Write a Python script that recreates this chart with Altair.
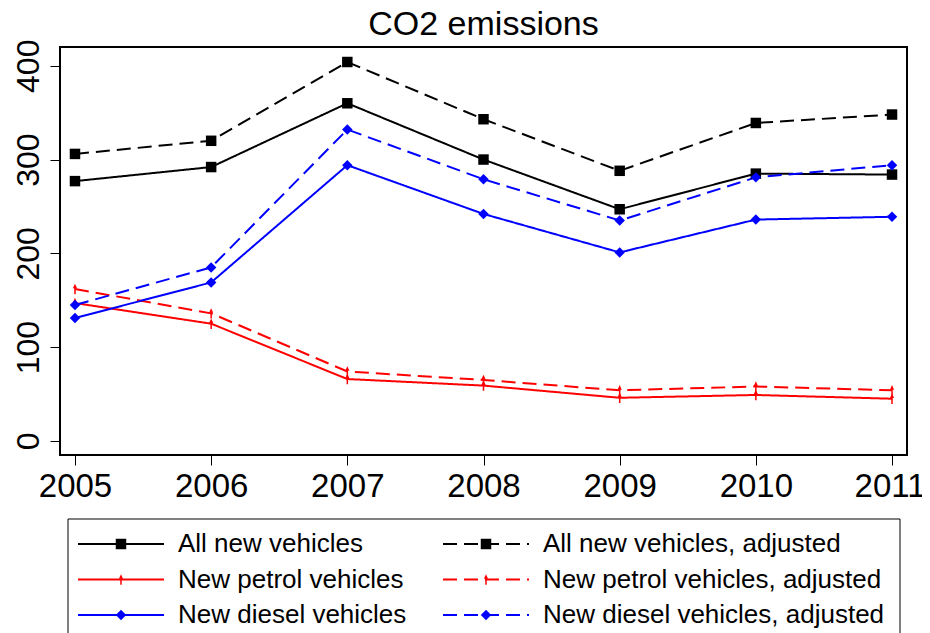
import altair as alt
import pandas as pd

years = [2005, 2006, 2007, 2008, 2009, 2010, 2011]
all_new = [277, 292, 360, 300, 247, 285, 284]
all_new_adj = [306, 320, 404, 343, 288, 339, 348]
petrol = [147, 125, 66, 59, 46, 49, 45]
petrol_adj = [162, 136, 74, 65, 54, 58, 54]
diesel = [131, 169, 294, 242, 201, 236, 239]
diesel_adj = [145, 185, 332, 279, 235, 281, 294]

series_names = [
    "All new vehicles",
    "All new vehicles, adjusted",
    "New petrol vehicles",
    "New petrol vehicles, adjusted",
    "New diesel vehicles",
    "New diesel vehicles, adjusted",
]
series_values = [all_new, all_new_adj, petrol, petrol_adj, diesel, diesel_adj]
series_colors = ["black", "black", "red", "red", "blue", "blue"]
series_dashes = [[1, 0], [14, 7], [1, 0], [14, 7], [1, 0], [14, 7]]
series_shapes = ["square", "square", "arrow", "arrow", "diamond", "diamond"]
series_sizes = [110, 110, 230, 230, 190, 190]

y_ticks = [0, 100, 200, 300, 400]
FONT = "Liberation Sans"

rows = []
for name, vals in zip(series_names, series_values):
    for yr, v in zip(years, vals):
        rows.append({"series": name, "year": yr, "value": v})
df = pd.DataFrame(rows)

leg_df = pd.DataFrame({
    "series": series_names,
    "col": [i % 2 for i in range(len(series_names))],
    "row": [i // 2 for i in range(len(series_names))],
})

color_enc = alt.Color("series:N", scale=alt.Scale(domain=series_names, range=series_colors), legend=None)
dash_enc = alt.StrokeDash("series:N", scale=alt.Scale(domain=series_names, range=series_dashes), legend=None)
shape_enc = alt.Shape("series:N", scale=alt.Scale(domain=series_names, range=series_shapes), legend=None)
size_enc = alt.Size("series:N", scale=alt.Scale(domain=series_names, range=series_sizes), legend=None)

base = alt.Chart(df).encode(
    x=alt.X("year:Q",
            scale=alt.Scale(domain=[2004.89, 2011.11], nice=False, zero=False),
            axis=alt.Axis(values=years, format="d", title=None, grid=False, domain=False,
                          tickSize=10, tickColor="black", tickWidth=1,
                          labelFont=FONT, labelFontSize=33, labelColor="black",
                          labelOffset={"condition": {"test": "datum.value === 2011", "value": -2.5},
                                       "value": 0},
                          labelPadding=5.5, labelFlush=False, labelOverlap=False)),
    y=alt.Y("value:Q",
            scale=alt.Scale(domain=[-15, 420], nice=False, zero=False),
            axis=alt.Axis(values=y_ticks, title=None, grid=False, domain=False,
                          tickSize=10, tickColor="black", tickWidth=1,
                          labelAngle=270, labelAlign="center", labelBaseline="alphabetic",
                          labelFont=FONT, labelFontSize=32, labelColor="black",
                          labelPadding=12, labelFlush=False, labelOverlap=False)),
    color=color_enc,
)

lines = base.mark_line(strokeWidth=2).encode(strokeDash=dash_enc, detail="series:N")
points = base.mark_point(filled=True, opacity=1).encode(shape=shape_enc, size=size_enc)
main = alt.layer(lines, points)

leg_base = alt.Chart(leg_df).encode(
    x=alt.X("col:Q", scale=alt.Scale(domain=[0, 1], range=[18, 383]), axis=None),
    y=alt.Y("row:Q", scale=alt.Scale(domain=[0, 2], range=[497, 568]), axis=None),
    color=color_enc,
)
leg_lines = leg_base.mark_rule(strokeWidth=2, x2Offset=86).encode(x2="col:Q", strokeDash=dash_enc)
leg_points = leg_base.mark_point(filled=True, opacity=1, xOffset=43).encode(shape=shape_enc, size=size_enc)
leg_text = leg_base.mark_text(align="left", baseline="middle", dx=100, fontSize=26,
                              font=FONT, color="black").encode(text="series:N", color=alt.value("black"))
leg_box = alt.Chart(pd.DataFrame({"box": [0]})).mark_rect(
    fill="transparent", stroke="black", strokeWidth=1
).encode(x=alt.value(8), x2=alt.value(840), y=alt.value(472), y2=alt.value(620))

legend = alt.layer(leg_box, leg_lines, leg_points, leg_text)

chart = alt.layer(main, legend).resolve_scale(
    x="independent", y="independent"
).properties(
    width=847, height=408,
    title=alt.TitleParams("CO2 emissions", font=FONT, fontSize=34, fontWeight="normal",
                          color="black", offset=-2.5),
    autosize=alt.AutoSizeParams(type="none"),
    padding={"left": 52, "top": 39, "right": 15, "bottom": 190},
    background="white",
).configure_view(stroke="black", strokeWidth=2)

chart.save("out.html", embed_options={"renderer": "svg", "actions": False})
